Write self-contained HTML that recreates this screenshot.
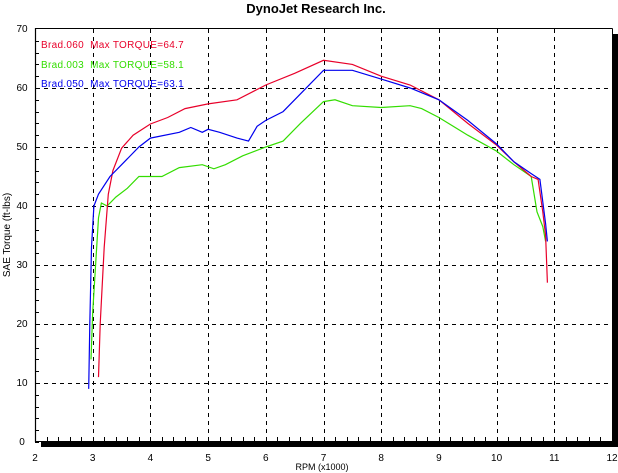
<!DOCTYPE html>
<html><head><meta charset="utf-8"><style>
html,body{margin:0;padding:0;background:#fff;width:618px;height:473px;overflow:hidden}
text{font-family:"Liberation Sans",sans-serif}
</style></head><body>
<svg id="s" width="618" height="473" xmlns="http://www.w3.org/2000/svg">
<text x="316" y="13" font-size="13" font-weight="bold" text-anchor="middle">DynoJet Research Inc.</text>
<rect x="613" y="34" width="5" height="413" fill="#000"/>
<rect x="41" y="442" width="577" height="5" fill="#000"/>
<g id="grid" stroke="#000" stroke-width="1" stroke-dasharray="4,4" fill="none"></g>
<g id="ticks" stroke="#000" stroke-width="1"></g>
<line x1="35" y1="28.5" x2="612.5" y2="28.5" stroke="#000"/>
<line x1="612.5" y1="28.5" x2="612.5" y2="442" stroke="#000"/>
<line x1="35.5" y1="28" x2="35.5" y2="442" stroke="#000" stroke-width="1.2"/>
<line x1="35" y1="441.5" x2="612" y2="441.5" stroke="#000"/>
<g id="labels" font-size="10" text-anchor="middle"></g>
<text x="10" y="235" font-size="10" text-anchor="middle" transform="rotate(-90 10 235)">SAE Torque (ft-lbs)</text>
<text x="322" y="470" font-size="9" text-anchor="middle">RPM (x1000)</text>
<g font-size="10" letter-spacing="0.3">
<text x="41" y="48" fill="#e8002a" xml:space="preserve">Brad.060  Max TORQUE=64.7</text>
<text x="41" y="68" fill="#33dd00" xml:space="preserve">Brad.003  Max TORQUE=58.1</text>
<text x="41" y="87" fill="#0000ee" xml:space="preserve">Brad.050  Max TORQUE=63.1</text>
</g>
<g id="curves" fill="none" stroke-width="1.2"></g>
</svg>
<script>
var NS="http://www.w3.org/2000/svg";
function X(r){return 35+(r-2)*57.7}
function Y(t){return 442-5.9*t}
function el(p,tag,a,txt){var e=document.createElementNS(NS,tag);for(var k in a)e.setAttribute(k,a[k]);if(txt!=null)e.textContent=txt;document.getElementById(p).appendChild(e)}
for(var r=3;r<=11;r++)el("grid","line",{x1:Math.round(X(r))+.5,y1:29,x2:Math.round(X(r))+.5,y2:441});
for(var t=10;t<=60;t+=10)el("grid","line",{x1:36,y1:Math.round(Y(t))+.5,x2:612,y2:Math.round(Y(t))+.5});
for(var i=0;i<50;i++){var x=Math.round(X(2+i*0.2))+.5;el("ticks","line",{x1:x,y1:441,x2:x,y2:437});}
for(var j=0;j<35;j++){var y=Math.round(Y(j*2))+.5;el("ticks","line",{x1:35,y1:y,x2:39,y2:y});}
for(var r=2;r<=12;r++)el("labels","text",{x:X(r),y:461},String(r));
for(var t=0;t<=70;t+=10)el("labels","text",{x:22,y:Y(t)+3},String(t));
var red=[[3.1,11],[3.13,20],[3.2,33],[3.27,42],[3.35,46],[3.5,49.8],[3.7,52],[4,53.9],[4.3,55],[4.6,56.5],[5,57.3],[5.5,58],[6,60.5],[6.5,62.5],[7,64.7],[7.5,64],[8,62],[8.5,60.5],[9,58],[9.5,54],[10,50.3],[10.3,47.5],[10.6,45],[10.72,44.5],[10.8,39],[10.85,35],[10.88,27]];
var blue=[[2.93,9],[2.95,20],[2.98,33],[3.02,40],[3.1,42],[3.3,45],[3.5,47],[3.8,50],[4,51.5],[4.5,52.5],[4.7,53.3],[4.9,52.5],[5,53],[5.2,52.5],[5.5,51.5],[5.7,51],[5.85,53.5],[6,54.5],[6.3,56],[6.6,59],[7,63],[7.5,63],[8,61.5],[8.5,60],[9,58],[9.5,54.5],[10,50.5],[10.3,47.5],[10.6,45.5],[10.75,44.5],[10.85,37],[10.88,34]];
var green=[[2.97,14],[3.0,22],[3.05,30],[3.1,38],[3.15,40.5],[3.25,40],[3.4,41.5],[3.6,43],[3.8,45],[4.2,45],[4.5,46.5],[4.9,47],[5.1,46.3],[5.3,47],[5.6,48.5],[6,50],[6.3,51],[6.6,54],[7,57.7],[7.2,58],[7.5,57],[8,56.7],[8.5,57],[8.7,56.5],[9,55],[9.5,52],[10,49.3],[10.3,47],[10.6,45],[10.7,39],[10.8,36.5],[10.85,34]];
function pl(d,c){el("curves","polyline",{stroke:c,points:d.map(function(p){return X(p[0]).toFixed(1)+","+Y(p[1]).toFixed(1)}).join(" ")})}
pl(green,"#33dd00");pl(red,"#e8002a");pl(blue,"#0000ee");
</script>
</body></html>
